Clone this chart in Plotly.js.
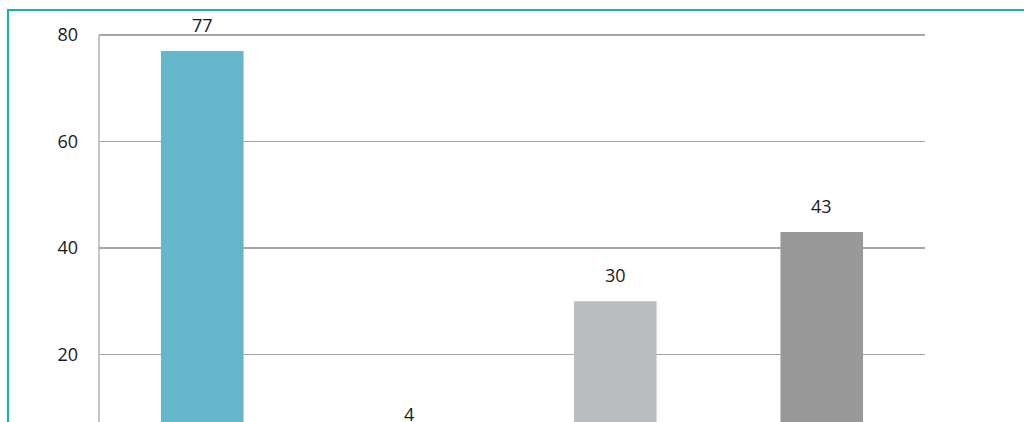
<!DOCTYPE html>
<html>
<head>
<meta charset="utf-8">
<script src="https://cdn.plot.ly/plotly-3.0.1.min.js"></script>
<style>
  html, body { margin: 0; padding: 0; width: 1024px; height: 422px; overflow: hidden; background: #fff; }
  #frame { position: absolute; left: 7px; top: 9px; width: 1100px; height: 700px;
           border-left: 2px solid #14b4b4; border-top: 2px solid #14b4b4; pointer-events: none; }
  #chart { position: absolute; left: 0; top: 0; width: 1024px; height: 520px; }
</style>
</head>
<body>
<div id="chart"></div>
<div id="frame"></div>
<script>
const categories = ["A", "B", "C", "D"];
const values = [77, 4, 30, 43];
const barColors = ["#65b6cb", "#7fa8c9", "#bbbcbe", "#999999"];
const yTicks = [20, 40, 60, 80];

const trace = {
  type: "bar",
  x: categories,
  y: values,
  marker: { color: barColors, line: { width: 0 } },
  hoverinfo: "none"
};

const annotations = categories.map((c, i) => ({
  x: c, y: values[i], xref: "x", yref: "y",
  text: String(values[i]), showarrow: false,
  yanchor: "bottom", yshift: 12,
  font: { family: "Open Sans, Noto Sans, sans-serif", size: 18, color: "#1a1a1a" }
}));

const layout = {
  width: 1024, height: 520,
  margin: { l: 99, r: 99, t: 33, b: 59, pad: 0 },
  paper_bgcolor: "rgba(0,0,0,0)",
  plot_bgcolor: "rgba(0,0,0,0)",
  bargap: 0.6,
  showlegend: false,
  xaxis: {
    type: "category",
    showgrid: false, zeroline: false,
    showline: false, showticklabels: false, ticks: ""
  },
  yaxis: {
    range: [0, 80.4],
    tickvals: yTicks,
    ticktext: yTicks.map(String),
    showgrid: true, gridcolor: "#a6a6a6", gridwidth: 1.3,
    zeroline: false,
    showline: false,
    ticks: "", ticklabelstandoff: 20,
    tickfont: { family: "Open Sans, Noto Sans, sans-serif", size: 18, color: "#1a1a1a" }
  },
  shapes: [{
    type: "line", xref: "paper", yref: "y",
    x0: 0, x1: 0, y0: 0, y1: yTicks[yTicks.length - 1],
    line: { color: "#a6a6a6", width: 1.3 }
  }],
  annotations: annotations
};

Plotly.newPlot("chart", [trace], layout, { displayModeBar: false, staticPlot: true });
</script>
</body>
</html>
